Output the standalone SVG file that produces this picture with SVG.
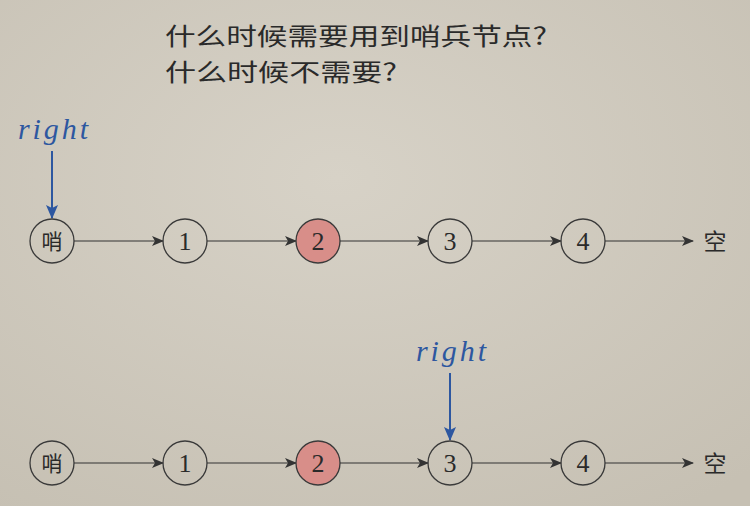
<svg xmlns="http://www.w3.org/2000/svg" width="750" height="506" viewBox="0 0 750 506">
<defs>
<radialGradient id="bg" cx="0.45" cy="0.35" r="0.8">
<stop offset="0" stop-color="#d7d2c7"/>
<stop offset="1" stop-color="#c6c0b3"/>
</radialGradient>
<marker id="ah" viewBox="0 0 12 10" refX="11" refY="5" markerWidth="12" markerHeight="10" markerUnits="userSpaceOnUse" orient="auto">
<path d="M0,0 L12,5 L0,10 L3,5 Z" fill="#333"/>
</marker>
<marker id="bh" viewBox="0 0 14 12" refX="13" refY="6" markerWidth="14" markerHeight="12" markerUnits="userSpaceOnUse" orient="auto">
<path d="M0,0 L14,6 L0,12 L3,6 Z" fill="#2d57a0"/>
</marker>
<style>
.n circle{fill:none;stroke:#3a3a3a;stroke-width:1.3}
.n circle.red{fill:#d88e89}
.num{font-family:"Liberation Serif","DejaVu Serif",serif;font-size:26px;fill:#2a2a2a;text-anchor:middle}
.cjk{font-family:"Noto Sans CJK SC",sans-serif;fill:#2a2a2a}
.lbl{font-size:21px;text-anchor:middle}
.title{font-size:24px}
.ptr{font-family:"Liberation Serif","DejaVu Serif",serif;font-style:italic;font-size:30px;fill:#2d57a0}
.e{stroke:#333;stroke-width:1.2;fill:none;marker-end:url(#ah)}
.b{stroke:#2d57a0;stroke-width:2;fill:none;marker-end:url(#bh)}
</style>
</defs>
<rect width="750" height="506" fill="url(#bg)"/>
<g id="title">
<text class="cjk title" x="165" y="45" textLength="382" lengthAdjust="spacingAndGlyphs">什么时候需要用到哨兵节点?</text>
<text class="cjk title" x="165" y="81" textLength="232" lengthAdjust="spacingAndGlyphs">什么时候不需要?</text>
</g>
<g id="connectors">
<line class="e" x1="74" y1="241" x2="163" y2="241"/>
<line class="e" x1="207" y1="241" x2="296" y2="241"/>
<line class="e" x1="340" y1="241" x2="428" y2="241"/>
<line class="e" x1="472" y1="241" x2="561" y2="241"/>
<line class="e" x1="605" y1="241" x2="693" y2="241"/>
<line class="e" x1="74" y1="463" x2="163" y2="463"/>
<line class="e" x1="207" y1="463" x2="296" y2="463"/>
<line class="e" x1="340" y1="463" x2="428" y2="463"/>
<line class="e" x1="472" y1="463" x2="561" y2="463"/>
<line class="e" x1="605" y1="463" x2="693" y2="463"/>
<line class="b" x1="52" y1="151" x2="52" y2="218"/>
<line class="b" x1="450" y1="373" x2="450" y2="440"/>
</g>
<g id="ptr1"><text class="ptr" x="18" y="139" textLength="70" lengthAdjust="spacing">right</text></g>
<g id="ptr2"><text class="ptr" x="416" y="361" textLength="70" lengthAdjust="spacing">right</text></g>
<g id="r1s" class="n"><circle cx="52" cy="241" r="22"/><text class="cjk lbl" x="52" y="249">哨</text></g>
<g id="r1n1" class="n"><circle cx="185" cy="241" r="22"/><text class="num" x="185" y="250">1</text></g>
<g id="r1n2" class="n"><circle class="red" cx="318" cy="241" r="22"/><text class="num" x="318" y="250">2</text></g>
<g id="r1n3" class="n"><circle cx="450" cy="241" r="22"/><text class="num" x="450" y="250">3</text></g>
<g id="r1n4" class="n"><circle cx="583" cy="241" r="22"/><text class="num" x="583" y="250">4</text></g>
<g id="r1null"><text class="cjk" x="715" y="250" font-size="23" text-anchor="middle">空</text></g>
<g id="r2s" class="n"><circle cx="52" cy="463" r="22"/><text class="cjk lbl" x="52" y="471">哨</text></g>
<g id="r2n1" class="n"><circle cx="185" cy="463" r="22"/><text class="num" x="185" y="472">1</text></g>
<g id="r2n2" class="n"><circle class="red" cx="318" cy="463" r="22"/><text class="num" x="318" y="472">2</text></g>
<g id="r2n3" class="n"><circle cx="450" cy="463" r="22"/><text class="num" x="450" y="472">3</text></g>
<g id="r2n4" class="n"><circle cx="583" cy="463" r="22"/><text class="num" x="583" y="472">4</text></g>
<g id="r2null"><text class="cjk" x="715" y="472" font-size="23" text-anchor="middle">空</text></g>
</svg>
